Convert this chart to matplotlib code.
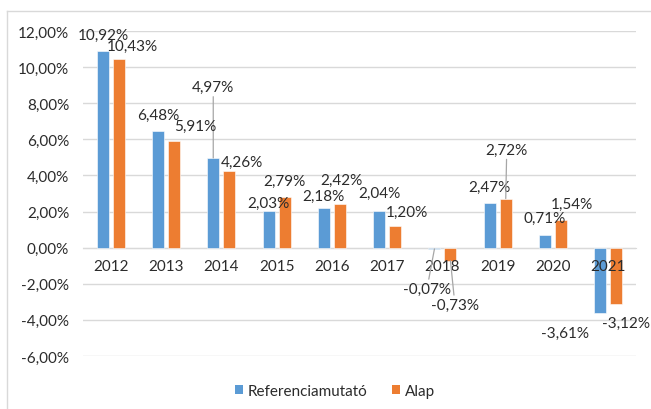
import matplotlib
matplotlib.use("Agg")
import matplotlib.pyplot as plt
from matplotlib.lines import Line2D
from matplotlib.patches import Patch
import numpy as np

years = ["2012", "2013", "2014", "2015", "2016", "2017", "2018", "2019", "2020", "2021"]
referencia = [10.92, 6.48, 4.97, 2.03, 2.18, 2.04, -0.07, 2.47, 0.71, -3.61]
alap = [10.43, 5.91, 4.26, 2.79, 2.42, 1.20, -0.73, 2.72, 1.54, -3.12]
series_names = ["Referenciamutató", "Alap"]
yticks = [-6, -4, -2, 0, 2, 4, 6, 8, 10, 12]

# label offsets in pixels (dx, dy) and leader-line flags
off_ref = [(1, 16), (0, 16), (0, 71), (0, 8.5), (0, 12), (0, 18), (-7.5, -40), (0, 16.5), (0, 17), (-35, -20)]
off_alap = [(14, 13), (21, 15.5), (13, 9), (0, 16), (2, 24), (12, 14), (4.5, -44), (1, 49), (11, 16), (10, -19)]
lead_ref = [False, False, True, False, False, False, True, False, False, False]
lead_alap = [False, False, False, False, False, False, True, True, False, False]

BLUE = "#5B9BD5"
ORANGE = "#ED7D31"
TXT = "#2B2B2B"
GRID = "#D9D9D9"
FONT = "Lato"
FS = 11

plt.rcParams["font.family"] = [FONT, "DejaVu Sans"]

W, H = 651, 410
fig = plt.figure(figsize=(W / 100, H / 100), dpi=100)
ax = fig.add_axes([83 / W, 1 - 357 / H, 553 / W, 325 / H])

x = np.arange(len(years))
bw = 12 / 55.3
off = 8 / 55.3
ax.bar(x - off, referencia, bw, color=BLUE, edgecolor="white", linewidth=0.4, zorder=3)
ax.bar(x + off, alap, bw, color=ORANGE, edgecolor="white", linewidth=0.4, zorder=3)

ax.set_xlim(-0.5, len(years) - 0.5)
ax.set_ylim(-6, 12)
ax.set_yticks(yticks)
ax.set_yticklabels([f"{v:.2f}%".replace(".", ",") for v in yticks])
ax.yaxis.grid(True, color=GRID, linewidth=1, zorder=0)
ax.set_axisbelow(True)
for s in ["left", "right", "top"]:
    ax.spines[s].set_visible(False)
ax.spines["bottom"].set_position(("data", 0))
ax.spines["bottom"].set_color(GRID)
ax.spines["bottom"].set_zorder(1)
ax.set_xticks(x)
ax.set_xticklabels(years)
ax.tick_params(axis="x", length=0, pad=8, labelsize=FS, labelcolor=TXT)
ax.tick_params(axis="y", length=0, pad=10, labelsize=FS, labelcolor=TXT)
ax.xaxis.set_zorder(5)

def fmt(v):
    return f"{v:.2f}%".replace(".", ",")

def label_bars(xs, vals, offs, leads):
    for xi, v, (dx, dy), ld in zip(xs, vals, offs, leads):
        kw = {}
        if ld:
            kw["arrowprops"] = dict(arrowstyle="-", color="#A6A6A6", lw=0.9,
                                    shrinkA=0, shrinkB=0)
        ax.annotate(fmt(v), xy=(xi, v), xytext=(dx, dy), textcoords="offset pixels",
                    ha="center", va="center", fontsize=FS, color=TXT, zorder=6, **kw)

label_bars(x - off, referencia, off_ref, lead_ref)
label_bars(x + off, alap, off_alap, lead_alap)

handles = [Patch(facecolor=BLUE, edgecolor="none"), Patch(facecolor=ORANGE, edgecolor="none")]
fig.legend(handles, series_names, loc="center", bbox_to_anchor=(335 / W, 1 - 392 / H),
           ncol=2, frameon=False, fontsize=FS, handlelength=0.55, handleheight=0.55,
           handletextpad=0.3, columnspacing=1.6, labelcolor=TXT)

# chart border (visible left & top edges)
fig.add_artist(Line2D([7 / W, 7 / W], [0, 1 - 12 / H], color=GRID, lw=1, transform=fig.transFigure))
fig.add_artist(Line2D([7 / W, 1], [1 - 12 / H, 1 - 12 / H], color=GRID, lw=1, transform=fig.transFigure))

fig.savefig("out.png", dpi=100)
